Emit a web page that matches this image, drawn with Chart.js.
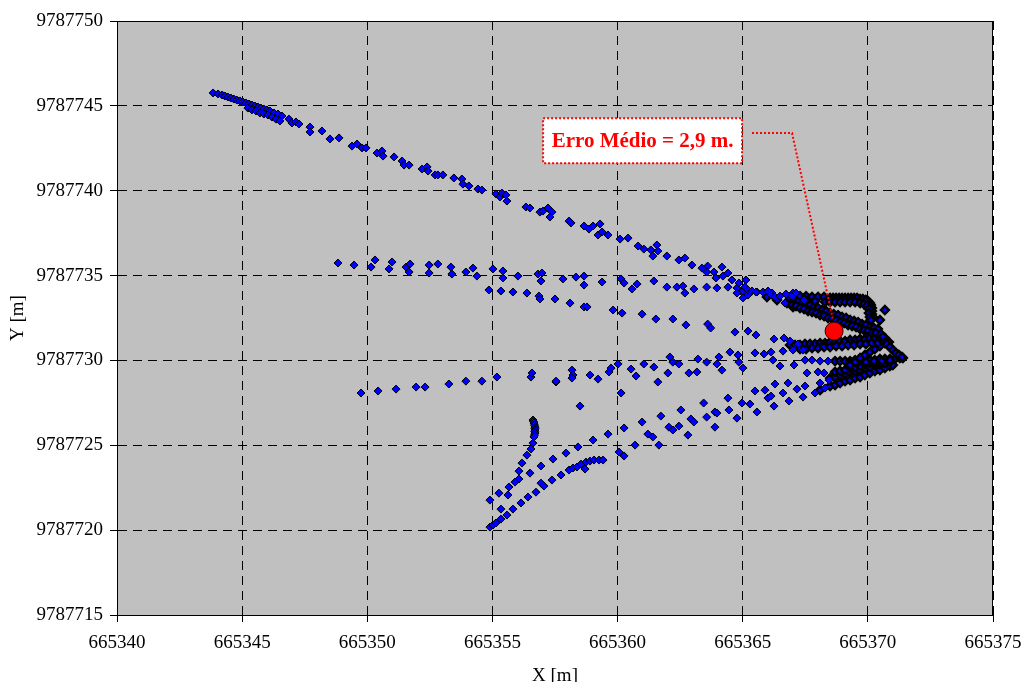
<!DOCTYPE html>
<html lang="pt">
<head>
<meta charset="UTF-8">
<title>Posições X / Y</title>
<script src="https://cdn.jsdelivr.net/npm/chart.js@4.4.1/dist/chart.umd.min.js"></script>
<style>
    html, body { margin: 0; padding: 0; background: #fff; }
    canvas { display: block; }
</style>
</head>
<body>
<canvas id="grafico" width="1023" height="682"></canvas>
<script>
// eixos
const xTicks = [665340, 665345, 665350, 665355, 665360, 665365, 665370, 665375];
const yTicks = [9787715, 9787720, 9787725, 9787730, 9787735, 9787740, 9787745, 9787750];

// posição média + rótulo
const pontoMedio = [665368.65, 9787731.73];
const notaTexto = 'Erro Médio = 2,9 m.';
const notaCentro = [665361.0, 9787742.95];
const linhaNota = [[665365.37, 9787743.40], [665366.97, 9787743.40], [665368.61, 9787732.38]];

// trilhas
const trilhaSuperior = [
[665343.84,9787745.76],[665344.04,9787745.70],[665344.20,9787745.64],[665344.31,9787745.58],[665344.43,9787745.52],[665344.55,9787745.46],[665344.67,9787745.40],[665344.79,9787745.34],[665344.91,9787745.29],[665345.03,9787745.23],[665345.15,9787745.17],[665345.27,9787745.11],[665345.39,9787745.05],[665345.51,9787744.99],[665345.63,9787744.93],[665345.75,9787744.87],[665345.87,9787744.81],[665345.99,9787744.76],[665346.11,9787744.70],[665346.27,9787744.58],[665346.43,9787744.52],[665346.59,9787744.40],
[665345.23,9787744.87],[665345.39,9787744.76],[665345.55,9787744.70],[665345.71,9787744.58],[665345.87,9787744.52],[665346.03,9787744.46],[665346.19,9787744.34],[665346.35,9787744.22],[665346.51,9787744.11],
[665346.87,9787744.22],[665346.99,9787743.99],[665347.15,9787744.05],[665347.27,9787743.93],[665347.71,9787743.75],[665347.71,9787743.46],[665348.19,9787743.52],[665348.51,9787743.05],[665348.87,9787743.11],[665349.39,9787742.63],[665349.59,9787742.75],[665349.79,9787742.52],[665349.95,9787742.52],[665350.39,9787742.22],[665350.59,9787742.34],[665350.63,9787742.04],[665351.07,9787741.99],[665351.39,9787741.75],[665351.47,9787741.51],[665351.67,9787741.51],[665352.19,9787741.28],[665352.39,9787741.40],[665352.43,9787741.16],[665352.71,9787740.93],[665352.82,9787740.93],[665353.02,9787740.93],[665353.46,9787740.75],[665353.78,9787740.69],[665353.82,9787740.39],[665354.06,9787740.28],[665354.42,9787740.10],[665354.58,9787740.04],[665355.14,9787739.81],[665355.30,9787739.63],[665355.38,9787739.86],[665355.54,9787739.75],[665355.58,9787739.39],[665356.34,9787739.04],[665356.50,9787738.98],[665356.90,9787738.74],[665357.02,9787738.80],[665357.22,9787738.98],[665357.38,9787738.74],[665357.30,9787738.45],[665358.06,9787738.21],[665358.14,9787738.10],[665358.66,9787737.92],[665358.86,9787737.74],[665359.02,9787737.92],[665359.30,9787738.04],[665359.22,9787737.39],[665359.38,9787737.57],[665359.62,9787737.39],[665360.10,9787737.15],[665360.42,9787737.21],[665360.82,9787736.74],[665361.05,9787736.56],[665361.33,9787736.51],[665361.41,9787736.15],[665361.57,9787736.80],[665361.61,9787736.45],[665361.97,9787736.15],[665362.45,9787735.92],[665362.69,9787736.03],[665362.97,9787735.62],[665363.37,9787735.44],[665363.60,9787735.56],[665363.56,9787735.21],[665363.85,9787735.21],[665363.93,9787734.86],[665364.17,9787735.50],[665364.21,9787734.97],[665364.41,9787735.15],[665364.57,9787734.74],[665364.85,9787734.56],[665365.09,9787734.32],[665365.13,9787734.74],[665365.21,9787734.15],[665365.37,9787734.09],[665365.53,9787734.03],[665365.81,9787734.03],[665366.01,9787734.09],[665366.13,9787733.85],[665366.29,9787733.74],[665366.49,9787733.79],[665366.73,9787733.91],[665366.97,9787733.79],[665367.13,9787733.97]
];
const trilhaMeioAlta = [
[665348.83,9787735.74],[665349.47,9787735.62],[665350.31,9787735.92],[665350.15,9787735.50],[665350.99,9787735.80],[665350.87,9787735.39],[665351.55,9787735.50],[665351.71,9787735.68],[665351.67,9787735.21],[665352.47,9787735.62],[665352.47,9787735.15],[665352.82,9787735.68],[665353.34,9787735.50],[665353.38,9787735.09],[665353.94,9787735.21],[665354.22,9787735.44],[665354.38,9787734.97],[665355.02,9787735.39],[665355.42,9787735.27],[665355.42,9787734.86],[665356.02,9787734.97],[665356.82,9787735.09],[665356.98,9787735.15],[665356.94,9787734.68],[665357.82,9787734.80],[665358.34,9787734.91],[665358.66,9787734.97],[665358.66,9787734.44],[665359.38,9787734.62],[665360.14,9787734.80],[665360.26,9787734.56],[665360.58,9787734.21],[665360.78,9787734.50],[665361.45,9787734.68],[665361.97,9787734.32],[665362.37,9787734.32],[665362.61,9787734.38],[665362.69,9787733.97],[665363.05,9787734.21],[665363.56,9787734.32],[665363.97,9787734.27],[665364.41,9787734.32],[665364.77,9787734.27],[665364.97,9787734.03],[665365.21,9787733.85],[665364.77,9787733.97],[665365.01,9787733.68],[665365.57,9787734.03],[665366.17,9787733.97],[665366.69,9787733.38],[665367.01,9787733.97],[665367.45,9787733.56]
];
const trilhaMeioBaixa = [
[665354.86,9787734.15],[665355.34,9787734.09],[665355.82,9787734.03],[665356.38,9787733.97],[665356.86,9787733.79],[665356.90,9787733.62],[665357.50,9787733.62],[665358.10,9787733.38],[665358.66,9787733.15],[665358.78,9787733.15],[665359.82,9787732.97],[665360.18,9787732.79],[665360.98,9787732.73],[665361.53,9787732.44],[665362.21,9787732.44],[665362.73,9787732.09],[665363.60,9787732.14],[665363.72,9787731.91],[665364.69,9787731.67],[665365.21,9787731.73],[665365.53,9787731.50],[665366.25,9787731.26],[665366.65,9787731.32],[665366.89,9787731.14],[665367.21,9787730.97]
];
const trilhaMeio30 = [
[665360.54,9787729.49],[665360.74,9787729.08],[665361.05,9787729.79],[665361.45,9787729.61],[665361.61,9787728.73],[665362.01,9787729.26],[665362.09,9787730.20],[665362.21,9787729.90],[665362.45,9787729.79],[665362.85,9787729.26],[665363.17,9787729.32],[665363.21,9787730.08],[665363.56,9787729.90],[665363.97,9787729.79],[665364.05,9787730.20],[665364.17,9787729.43],[665364.49,9787730.49],[665364.81,9787730.32],[665364.85,9787729.90],[665365.01,9787729.55],[665365.49,9787730.44],[665365.85,9787730.38],[665366.13,9787730.49],[665366.21,9787730.02],[665366.49,9787729.67],[665366.61,9787730.55],[665367.01,9787730.61],[665367.05,9787729.73],[665367.41,9787730.61],[665367.49,9787730.02],[665367.77,9787730.02],[665368.09,9787729.96],[665368.41,9787729.96],[665367.57,9787729.26],[665368.01,9787729.32]
];
const trilhaBaixa = [
[665349.75,9787728.08],[665350.43,9787728.20],[665351.15,9787728.31],[665351.95,9787728.43],[665352.31,9787728.43],[665353.26,9787728.61],[665353.94,9787728.78],[665354.58,9787728.78],[665355.18,9787729.02],[665356.54,9787729.02],[665356.58,9787729.26],[665357.54,9787728.78],[665358.18,9787729.43],[665358.22,9787729.14],[665358.18,9787728.96],[665358.90,9787729.14],[665359.22,9787728.90],[665359.66,9787729.32],[665359.74,9787729.55],[665360.02,9787729.79],[665358.50,9787727.31],[665360.14,9787728.08]
];
const trilhaBaixaDir = [
[665360.26,9787726.02],[665360.98,9787726.37],[665360.70,9787725.01],[665361.21,9787725.66],[665361.41,9787725.49],[665361.65,9787725.01],[665361.73,9787726.72],[665362.05,9787726.07],[665362.21,9787725.90],[665362.45,9787726.13],[665362.53,9787727.08],[665362.81,9787725.60],[665362.93,9787726.55],[665363.05,9787726.37],[665363.44,9787727.49],[665363.56,9787726.66],[665363.89,9787726.96],[665363.97,9787726.90],[665363.89,9787726.07],[665364.41,9787727.78],[665364.45,9787727.08],[665364.77,9787726.60],[665364.97,9787727.49],[665365.29,9787727.43],[665365.57,9787726.96],[665365.49,9787728.20],[665366.01,9787727.78],[665366.13,9787727.90],[665366.25,9787727.31],[665366.61,9787728.08],[665366.85,9787727.61],[665367.17,9787728.31],[665367.41,9787727.84],[665367.49,9787728.49],[665367.89,9787728.08],[665368.09,9787728.67],[665368.25,9787729.26],[665368.29,9787728.37],[665368.45,9787728.84],[665366.81,9787728.67],[665365.89,9787728.25],[665366.29,9787728.61]
];
const trilhaGancho = [
[665356.62,9787726.49],[665356.64,9787726.40],[665356.66,9787726.31],[665356.68,9787726.19],[665356.70,9787726.07],[665356.70,9787725.99],[665356.70,9787725.90],[665356.69,9787725.81],[665356.70,9787725.72],[665356.68,9787725.60],[665356.66,9787725.49],[665356.62,9787725.13],[665356.54,9787724.78],[665356.38,9787724.42],[665356.18,9787723.95],[665356.06,9787723.48],[665356.06,9787723.01],[665355.90,9787722.83],[665355.66,9787722.54],[665355.62,9787722.07],[665355.26,9787722.18],[665354.90,9787721.77]
];
const trilhaFundoA = [
[665354.90,9787720.18],[665355.02,9787720.30],[665355.14,9787720.42],[665355.34,9787720.65],[665355.34,9787721.24],[665355.58,9787720.89],[665355.82,9787721.24],[665356.14,9787721.60],[665356.42,9787721.95],[665356.74,9787722.24],[665356.94,9787722.77],[665357.06,9787722.60],[665357.38,9787722.95],[665357.74,9787723.25],[665358.06,9787723.54],[665358.22,9787723.66],[665358.38,9787723.72],[665358.54,9787723.89],[665358.70,9787723.60],[665358.74,9787724.01],[665358.90,9787724.07],[665359.06,9787724.13],[665359.26,9787724.13],[665359.42,9787724.13]
];
const trilhaFundoB = [
[665356.50,9787723.36],[665356.94,9787723.78],[665357.42,9787724.19],[665357.94,9787724.54],[665358.42,9787724.90],[665359.02,9787725.31],[665359.62,9787725.66],[665360.06,9787724.60],[665360.26,9787724.37],[665357.54,9787728.73]
];
// faixas densas junto ao ponto de retorno
const faixaU1 = [
[665367.29,9787733.79],[665367.53,9787733.79],[665367.77,9787733.74],[665368.01,9787733.74],[665368.25,9787733.74],[665368.49,9787733.68],[665368.61,9787733.68],[665368.73,9787733.68],[665368.85,9787733.68],[665368.97,9787733.68],[665369.09,9787733.68],[665369.21,9787733.68],[665369.33,9787733.68],[665369.45,9787733.68],[665369.57,9787733.68],[665369.69,9787733.62],[665369.80,9787733.62],[665369.92,9787733.56],[665370.00,9787733.50],[665370.08,9787733.38],[665370.12,9787733.26],[665370.16,9787733.09],[665370.16,9787732.91],[665370.16,9787732.73],[665370.20,9787732.56],
[665367.49,9787733.56],[665367.89,9787733.50],[665368.29,9787733.44],[665368.49,9787733.44],[665368.69,9787733.44],[665368.89,9787733.44],[665369.09,9787733.44],[665369.29,9787733.44],[665369.49,9787733.44],[665369.69,9787733.38],[665369.84,9787733.32],[665369.96,9787733.21],[665370.04,9787733.03],[665370.04,9787732.79],[665370.08,9787732.56],[665370.12,9787732.38],
[665370.68,9787732.97],[665370.48,9787732.38]
];
const faixaU2 = [
[665365.97,9787733.74],[665366.37,9787733.56],[665366.77,9787733.38],[665367.01,9787733.15],
[665366.89,9787733.68],[665367.05,9787733.56],[665367.21,9787733.50],[665367.36,9787733.38],[665367.53,9787733.32],[665367.69,9787733.26],[665367.85,9787733.15],[665368.01,9787733.09],[665368.17,9787732.97],[665368.33,9787732.91],[665368.49,9787732.79],[665368.64,9787732.73],[665368.81,9787732.67],[665368.97,9787732.56],[665369.13,9787732.50],[665369.29,9787732.38],[665369.45,9787732.32],[665369.61,9787732.26],[665369.77,9787732.14],[665369.92,9787732.09],[665370.08,9787731.97],[665370.24,9787731.91],[665370.40,9787731.85],
[665366.97,9787733.26],[665367.13,9787733.21],[665367.29,9787733.09],[665367.45,9787733.03],[665367.61,9787732.91],[665367.77,9787732.85],[665367.93,9787732.79],[665368.09,9787732.67],[665368.25,9787732.62],[665368.41,9787732.50],[665368.57,9787732.44],[665368.73,9787732.38],[665368.89,9787732.26],[665369.05,9787732.20],[665369.21,9787732.09],[665369.37,9787732.03],[665369.53,9787731.97],[665369.69,9787731.85],[665369.84,9787731.79],[665370.00,9787731.73],[665370.16,9787731.61],[665370.32,9787731.61],
[665370.52,9787731.55],[665370.60,9787731.40]
];
const faixaM1 = [
[665366.89,9787730.91],[665367.09,9787730.91],[665367.29,9787730.91],[665367.49,9787730.97],[665367.69,9787730.97],[665367.89,9787730.97],[665368.09,9787731.02],[665368.29,9787731.02],[665368.49,9787731.08],[665368.69,9787731.08],[665368.89,9787731.14],[665369.09,9787731.14],[665369.29,9787731.20],[665369.49,9787731.20],[665369.69,9787731.26],[665369.88,9787731.26],[665370.08,9787731.32],[665370.28,9787731.32],[665370.48,9787731.32],[665370.68,9787731.32],
[665367.29,9787730.67],[665367.53,9787730.67],[665367.77,9787730.73],[665368.01,9787730.73],[665368.25,9787730.79],[665368.49,9787730.79],[665368.73,9787730.85],[665368.97,9787730.85],[665369.21,9787730.91],[665369.45,9787730.91],[665369.69,9787730.97],[665369.92,9787730.97],[665370.16,9787731.02],[665370.40,9787731.02],[665370.64,9787731.08],[665370.84,9787731.08],
[665370.64,9787731.14],[665370.76,9787730.97],[665370.88,9787730.79],[665371.00,9787730.61],[665371.12,9787730.44],[665371.24,9787730.32],[665371.36,9787730.20]
];
const faixaM2 = [
[665368.69,9787729.96],[665368.89,9787729.96],[665369.09,9787729.96],[665369.29,9787729.96],[665369.49,9787730.02],[665369.69,9787730.02],[665369.88,9787730.02],[665370.08,9787730.02],[665370.28,9787730.02],[665370.48,9787730.08],[665370.68,9787730.08],[665370.88,9787730.08],[665371.08,9787730.08],[665371.28,9787730.14],[665371.40,9787730.14],
[665369.29,9787729.85],[665369.61,9787729.90],[665369.92,9787729.90],[665370.24,9787729.96],[665370.56,9787729.96],[665370.88,9787730.02],
[665369.29,9787729.73],[665369.49,9787729.90],[665369.69,9787730.14],[665369.88,9787730.32],[665370.08,9787730.49],[665370.28,9787730.67],[665370.48,9787730.85],[665370.68,9787731.02]
];
const faixaL1 = [
[665368.49,9787728.96],[665368.69,9787729.02],[665368.89,9787729.14],[665369.09,9787729.20],[665369.29,9787729.32],[665369.49,9787729.38],[665369.69,9787729.43],[665369.88,9787729.55],[665370.08,9787729.61],[665370.28,9787729.73],[665370.48,9787729.79],[665370.68,9787729.85],[665370.88,9787729.90],
[665368.69,9787729.32],[665368.89,9787729.38],[665369.09,9787729.43],[665369.29,9787729.55],[665369.49,9787729.61],[665369.69,9787729.67],[665369.88,9787729.79],[665370.08,9787729.85],[665370.28,9787729.90],[665370.48,9787729.96]
];
const faixaL2 = [
[665368.09,9787728.25],[665368.49,9787728.49],[665368.69,9787728.55],[665368.89,9787728.67],[665369.09,9787728.78],[665369.29,9787728.84],[665369.49,9787728.96],[665369.69,9787729.02],[665369.88,9787729.14],[665370.08,9787729.26],[665370.28,9787729.38],[665370.48,9787729.43],[665370.68,9787729.55],[665370.88,9787729.67],[665371.00,9787729.73]
];

const trilhas = [trilhaSuperior, trilhaMeioAlta, trilhaMeioBaixa, trilhaMeio30, trilhaBaixa, trilhaBaixaDir,
    trilhaGancho, trilhaFundoA, trilhaFundoB];
const faixas = [faixaU1, faixaU2, faixaM1, faixaM2, faixaL1, faixaL2];

const fonte = { family: '"Liberation Serif", "Times New Roman", serif', size: 19 };

// fundo cinza + moldura da área do gráfico
const fundoPlot = {
    id: 'fundoPlot',
    beforeDraw(chart) {
        const { ctx, chartArea: a } = chart;
        ctx.save();
        ctx.fillStyle = '#c0c0c0';
        ctx.fillRect(a.left, a.top, a.right - a.left, a.bottom - a.top);
        ctx.restore();
    },
    beforeDatasetsDraw(chart) {
        const { ctx, chartArea: a } = chart;
        ctx.save();
        ctx.strokeStyle = '#000';
        ctx.lineWidth = 1;
        ctx.strokeRect(a.left + 0.5, a.top + 0.5, a.right - a.left - 1, a.bottom - a.top);
        ctx.restore();
    }
};

// caixa "Erro Médio" e linha de chamada
const rotulo = {
    id: 'rotulo',
    afterDatasetsDraw(chart) {
        const { ctx, scales: { x, y } } = chart;
        ctx.save();
        ctx.strokeStyle = '#ff0000';
        ctx.lineWidth = 2;
        ctx.setLineDash([2, 2]);
        ctx.beginPath();
        linhaNota.forEach((p, i) => {
            const px = x.getPixelForValue(p[0]), py = y.getPixelForValue(p[1]);
            if (i === 0) ctx.moveTo(px, py); else ctx.lineTo(px, py);
        });
        ctx.stroke();

        const cx = x.getPixelForValue(notaCentro[0]);
        const cy = y.getPixelForValue(notaCentro[1]);
        const w = 199, h = 45;
        ctx.fillStyle = '#fff';
        ctx.fillRect(cx - w / 2, cy - h / 2, w, h);
        ctx.strokeRect(cx - w / 2, cy - h / 2, w, h);
        ctx.setLineDash([]);
        ctx.fillStyle = '#ff0000';
        ctx.font = 'bold 21px "Liberation Serif", serif';
        ctx.textAlign = 'center';
        ctx.textBaseline = 'middle';
        ctx.fillText(notaTexto, cx, cy + 1);
        ctx.restore();
    }
};

const estiloPonto = {
    pointStyle: 'rectRot',
    pointRadius: 4,
    backgroundColor: '#0000ff',
    borderColor: '#000',
    borderWidth: 1
};

new Chart(document.getElementById('grafico'), {
    type: 'scatter',
    data: {
        datasets: [
            { data: [pontoMedio], pointStyle: 'circle', pointRadius: 9, backgroundColor: '#ff0000', borderColor: '#300000', borderWidth: 1 },
            ...trilhas.map(t => ({ data: t, ...estiloPonto })),
            // muitas posições sobrepostas: o contorno preto domina
            ...faixas.map(t => ({ data: t, ...estiloPonto, borderWidth: 2.4 }))
        ]
    },
    options: {
        responsive: false,
        animation: false,
        events: [],
        layout: { padding: { top: 21, right: 30, left: 0, bottom: 0 } },
        plugins: { legend: { display: false }, tooltip: { enabled: false } },
        scales: {
            x: {
                type: 'linear',
                min: xTicks[0], max: xTicks[xTicks.length - 1],
                afterBuildTicks: s => { s.ticks = xTicks.map(v => ({ value: v })); },
                afterFit: s => { s.height = 67; s.paddingLeft = 0; s.paddingRight = 0; },
                ticks: { callback: v => String(v), font: fonte, color: '#000', padding: 10, maxRotation: 0 },
                grid: { color: '#000', tickLength: 7, tickColor: '#000' },
                border: { color: '#000', dash: [9, 6] },
                title: { display: true, text: 'X [m]', color: '#000', font: { ...fonte, lineHeight: 1 }, padding: { top: 0, bottom: -4 } }
            },
            y: {
                type: 'linear',
                min: yTicks[0], max: yTicks[yTicks.length - 1],
                afterBuildTicks: s => { s.ticks = yTicks.map(v => ({ value: v })); },
                afterFit: s => { s.width = 117; s.paddingTop = 0; s.paddingBottom = 0; },
                ticks: { callback: v => String(v), font: fonte, color: '#000', padding: 7 },
                grid: { color: '#000', tickLength: 7, tickColor: '#000' },
                border: { color: '#000', dash: [9, 6] },
                title: { display: true, text: 'Y [m]', color: '#000', font: { ...fonte, lineHeight: 1 }, padding: { top: 8.5, bottom: 0 } }
            }
        }
    },
    plugins: [fundoPlot, rotulo]
});
</script>
</body>
</html>
